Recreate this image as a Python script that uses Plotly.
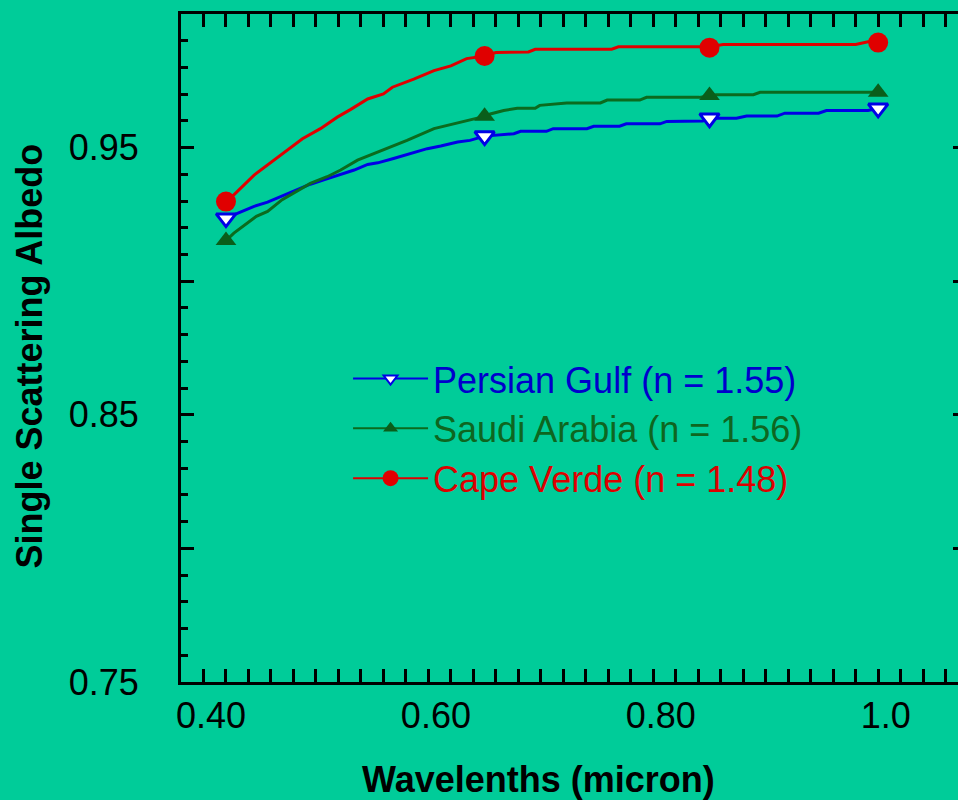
import plotly.graph_objects as go

# ---------------- data ----------------
pg_wl = [0.440, 0.447, 0.465, 0.477, 0.489, 0.504, 0.515, 0.527, 0.542, 0.554, 0.566, 0.575,
         0.589, 0.604, 0.619, 0.631, 0.646, 0.657, 0.670, 0.696, 0.702, 0.725, 0.731, 0.761,
         0.767, 0.790, 0.796, 0.826, 0.832, 0.864, 0.870, 0.894, 0.903, 0.930, 0.937, 0.967,
         0.974, 1.011, 1.020]
pg_val = [0.9236, 0.9249, 0.9280, 0.9296, 0.9317, 0.9342, 0.9363, 0.9379, 0.9400, 0.9416, 0.9437, 0.9443,
          0.9459, 0.9478, 0.9496, 0.9506, 0.9521, 0.9527, 0.9543, 0.9552, 0.9561, 0.9561, 0.9571, 0.9571,
          0.9580, 0.9580, 0.9589, 0.9589, 0.9598, 0.9600, 0.9610, 0.9610, 0.9618, 0.9618, 0.9629, 0.9629,
          0.9639, 0.9639, 0.9647]

sa_wl = [0.440, 0.447, 0.467, 0.477, 0.490, 0.507, 0.515, 0.530, 0.542, 0.557, 0.572, 0.586,
         0.601, 0.625, 0.643, 0.660, 0.670, 0.675, 0.687, 0.699, 0.715, 0.719, 0.743, 0.773,
         0.779, 0.808, 0.814, 0.861, 0.870, 0.876, 0.909, 0.915, 1.020]
sa_val = [0.9152, 0.9180, 0.9243, 0.9261, 0.9305, 0.9348, 0.9366, 0.9391, 0.9416, 0.9453, 0.9478, 0.9503,
          0.9527, 0.9571, 0.9589, 0.9608, 0.9617, 0.9626, 0.9639, 0.9647, 0.9647, 0.9658, 0.9667, 0.9667,
          0.9678, 0.9678, 0.9688, 0.9688, 0.9695, 0.9698, 0.9698, 0.9707, 0.9707]

cv_wl = [0.440, 0.447, 0.465, 0.487, 0.508, 0.524, 0.539, 0.551, 0.566, 0.580, 0.588, 0.607,
         0.625, 0.640, 0.654, 0.670, 0.680, 0.709, 0.715, 0.783, 0.789, 0.870, 0.882, 1.000,
         1.011, 1.020]
cv_val = [0.9298, 0.9323, 0.9397, 0.9465, 0.9533, 0.9571, 0.9614, 0.9643, 0.9682, 0.9701, 0.9726, 0.9756,
          0.9788, 0.9806, 0.9833, 0.9843, 0.9856, 0.9858, 0.9868, 0.9868, 0.9877, 0.9877, 0.9886, 0.9886,
          0.9896, 0.9896]

marker_wl = [0.44, 0.67, 0.87, 1.02]
pg_marker = [0.9236, 0.9543, 0.9610, 0.9647]
sa_marker = [0.9152, 0.9617, 0.9695, 0.9707]
cv_marker = [0.9298, 0.9843, 0.9874, 0.9893]

names = ["Persian Gulf (n = 1.55)", "Saudi Arabia (n = 1.56)", "Cape Verde (n = 1.48)"]

x_tickvals = [0.4, 0.5, 0.6, 0.7, 0.8, 0.9, 1.0]
x_ticktext = ["0.40", "", "0.60", "", "0.80", "", "1.0"]
y_tickvals = [0.75, 0.80, 0.85, 0.90, 0.95, 1.00]
y_ticktext = ["0.75", "", "0.85", "", "0.95", ""]

# ---------------- style ----------------
BG = "#00CC99"
FONT = "Liberation Sans, Arial, sans-serif"
BLUE_LINE, BLUE_TXT = "#0000E6", "#0000CC"
GREEN_LINE, GREEN_MK, GREEN_TXT = "#0B6B1E", "#0A5E1A", "#0E6620"
RED_LINE, RED_TXT = "#E00000", "#DD0000"

series = [
    (pg_wl, pg_val, pg_marker, names[0], BLUE_LINE, BLUE_TXT,
     dict(symbol="triangle-down", size=17, color="white", line=dict(color=BLUE_LINE, width=3)),
     dict(symbol="triangle-down", size=12, color="white", line=dict(color=BLUE_LINE, width=2))),
    (sa_wl, sa_val, sa_marker, names[1], GREEN_LINE, GREEN_TXT,
     dict(symbol="triangle-up", size=18, color=GREEN_MK, line=dict(width=0)),
     dict(symbol="triangle-up", size=13, color=GREEN_MK, line=dict(width=0))),
    (cv_wl, cv_val, cv_marker, names[2], RED_LINE, RED_TXT,
     dict(symbol="circle", size=20, color=RED_LINE, line=dict(width=0)),
     dict(symbol="circle", size=16, color=RED_LINE, line=dict(width=0))),
]

fig = go.Figure()
for wl, val, mk, name, lc, tc, mdict, ldict in series:
    fig.add_trace(go.Scatter(x=wl, y=val, mode="lines", line=dict(color=lc, width=3),
                             showlegend=False, hoverinfo="skip"))
for wl, val, mk, name, lc, tc, mdict, ldict in series:
    fig.add_trace(go.Scatter(x=marker_wl, y=mk, mode="markers", marker=mdict, showlegend=False))
for wl, val, mk, name, lc, tc, mdict, ldict in series:
    fig.add_trace(go.Scatter(x=[None], y=[None], mode="lines+markers",
                             line=dict(color=lc, width=2), marker=ldict,
                             name=f"<span style='color:{tc}'>{name}</span>"))

# invisible trace for right-side tick axis
fig.add_trace(go.Scatter(x=[None], y=[None], yaxis="y2", showlegend=False))

FS = 36
fig.update_layout(
    width=958, height=800,
    margin=dict(l=181, r=0, t=14, b=118),
    paper_bgcolor=BG, plot_bgcolor=BG,
    font=dict(family=FONT, color="black", size=FS),
    xaxis=dict(range=[0.4, 1.091], showgrid=False, zeroline=False,
               showline=True, linecolor="black", linewidth=3, mirror="allticks",
               ticks="inside", ticklen=13, tickwidth=3, tickcolor="black",
               tickvals=x_tickvals, ticktext=x_ticktext,
               ticklabelshift=30, ticklabelstandoff=0,
               minor=dict(dtick=0.02, ticks="inside", ticklen=6, tickwidth=3, tickcolor="black", showgrid=False),
               tickfont=dict(size=FS)),
    yaxis=dict(range=[0.75, 1.0], showgrid=False, zeroline=False,
               showline=True, linecolor="black", linewidth=3, mirror=False,
               ticks="inside", ticklen=13, tickwidth=3, tickcolor="black",
               tickvals=y_tickvals, ticktext=y_ticktext, ticklabelstandoff=32,
               minor=dict(dtick=0.01, ticks="inside", ticklen=7, tickwidth=3, tickcolor="black", showgrid=False),
               tickfont=dict(size=FS)),
    yaxis2=dict(range=[0.75, 1.0], overlaying="y", side="right", anchor="x",
                showgrid=False, zeroline=False, showline=False, showticklabels=False,
                ticks="inside", ticklen=5, tickwidth=3, tickcolor="black",
                tickvals=[0.80, 0.85, 0.90, 0.95]),
    legend=dict(x=0.215, y=0.499, xanchor="left", yanchor="top",
                bgcolor="rgba(0,0,0,0)", font=dict(size=36, family=FONT),
                itemsizing="trace", itemwidth=75, tracegroupgap=0),
    annotations=[
        dict(text="<b>Wavelenths (micron)</b>", xref="paper", yref="paper",
             x=0.46, y=-0.146, xanchor="center", yanchor="middle", showarrow=False,
             font=dict(size=36, family=FONT, color="black")),
        dict(text="<b>Single Scattering Albedo</b>", xref="paper", yref="paper",
             x=-0.195, y=0.488, xanchor="center", yanchor="middle", showarrow=False,
             textangle=-90, font=dict(size=36, family=FONT, color="black")),
    ],
)

fig.write_html("out.html", config={"displayModeBar": False},
               post_script="document.body.style.margin='0';document.body.style.background='" + BG + "';")
